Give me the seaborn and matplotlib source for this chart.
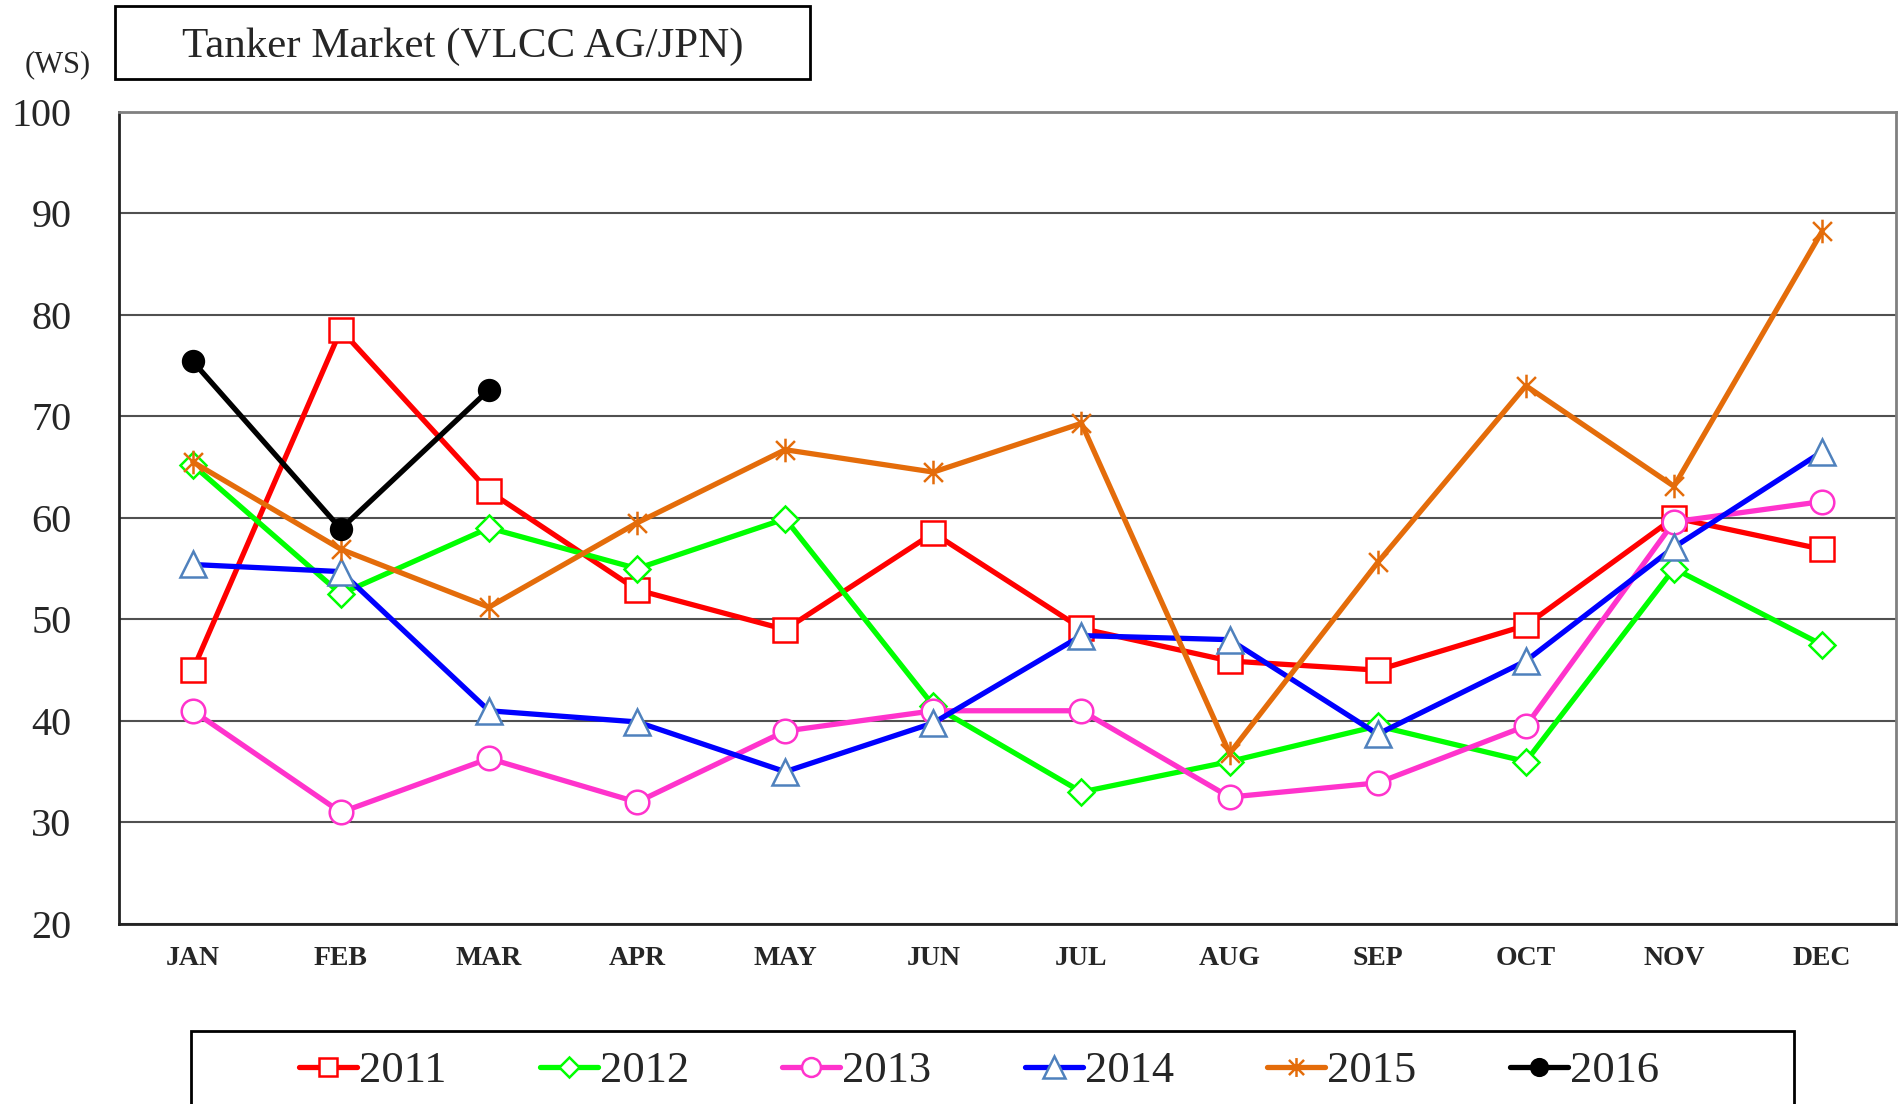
import numpy as np
import pandas as pd
import matplotlib
matplotlib.use("Agg")
import matplotlib.pyplot as plt
from matplotlib.patches import Rectangle
from matplotlib.path import Path
import seaborn as sns

# data
months = ["JAN", "FEB", "MAR", "APR", "MAY", "JUN",
          "JUL", "AUG", "SEP", "OCT", "NOV", "DEC"]
ws_2011 = [45.0, 78.5, 62.6, 52.9, 49.0, 58.5, 49.1, 45.9, 45.0, 49.4, 60.0, 56.9]
ws_2012 = [65.2, 52.5, 59.0, 55.0, 59.9, 41.5, 33.0, 36.0, 39.5, 36.0, 55.0, 47.5]
ws_2013 = [41.0, 31.0, 36.3, 32.0, 39.0, 41.0, 41.0, 32.5, 33.9, 39.5, 59.6, 61.6]
ws_2014 = [55.4, 54.7, 41.0, 39.9, 35.0, 39.8, 48.4, 48.0, 38.7, 45.9, 57.1, 66.5]
ws_2015 = [65.5, 56.9, 51.2, 59.5, 66.7, 64.5, 69.3, 36.8, 55.6, 73.0, 63.1, 88.2]
ws_2016 = [75.4, 58.9, 72.6]
years = ["2011", "2012", "2013", "2014", "2015", "2016"]

sns.set_style("white")
plt.rcParams["font.family"] = ["Liberation Serif", "DejaVu Serif"]

# excel-like star: X plus a vertical bar
star = Path([(0, -1), (0, 1), (-0.8, -0.8), (0.8, 0.8), (-0.8, 0.8), (0.8, -0.8)],
            [Path.MOVETO, Path.LINETO] * 3)

styles = {
    "2011": dict(color="#FF0000", marker="s", mfc="white", mec="#FF0000", ms=17),
    "2012": dict(color="#00FF00", marker="D", mfc="white", mec="#00FF00", ms=13),
    "2013": dict(color="#FF33CC", marker="o", mfc="white", mec="#FF33CC", ms=17),
    "2014": dict(color="#0000FF", marker="^", mfc="white", mec="#4F81BD", ms=19),
    "2015": dict(color="#E46C0A", marker=star, mfc="#E46C0A", mec="#E46C0A", ms=17),
    "2016": dict(color="#000000", marker="o", mfc="#000000", mec="#000000", ms=15),
}
series = [ws_2011, ws_2012, ws_2013, ws_2014, ws_2015, ws_2016]

fig = plt.figure(figsize=(18.99, 11.04), dpi=100)
ax = fig.add_axes([0.0625, 0.163, 0.936, 0.736])

for yr, vals in zip(years, series):
    st = styles[yr]
    sns.lineplot(x=months[:len(vals)], y=vals, ax=ax, sort=False, lw=3.8,
                 color=st["color"], marker=st["marker"], markersize=st["ms"],
                 markerfacecolor=st["mfc"], markeredgecolor=st["mec"],
                 markeredgewidth=1.8, label=yr)

if ax.get_legend() is not None:
    ax.get_legend().remove()

ax.set_ylim(20, 100)
ax.set_xlim(-0.5, 11.5)
ax.set_yticks(range(20, 101, 10))
ax.yaxis.grid(True, color="#505050", lw=1.5)
ax.set_axisbelow(True)
ax.tick_params(axis="y", length=0, pad=34, labelsize=29)
ax.set_xticks(range(12))
ax.set_xticklabels(months, fontweight="bold", fontsize=20)
ax.tick_params(axis="x", which="major", length=0, pad=16)
ax.set_xticks(np.arange(0.5, 11, 1), minor=True)
ax.tick_params(axis="x", which="minor", direction="in", length=9, width=1.5, color="#333333")
ax.set_xlabel("")
ax.set_ylabel("")
for side in ["left", "bottom"]:
    ax.spines[side].set_color("#222222")
    ax.spines[side].set_linewidth(2)
for side in ["top", "right"]:
    ax.spines[side].set_color("#808080")
    ax.spines[side].set_linewidth(2)

# title box
fig.add_artist(Rectangle((0.0606, 0.9284), 0.366, 0.0661, transform=fig.transFigure,
                         fill=False, ec="black", lw=2))
fig.text(0.2435, 0.958, "Tanker Market (VLCC AG/JPN)", fontsize=31,
         ha="center", va="center")
fig.text(0.0305, 0.941, "(WS)", fontsize=22, ha="center", va="center")

# legend box
fig.add_artist(Rectangle((0.1006, -0.02), 0.844, 0.0861, transform=fig.transFigure,
                         fill=False, ec="black", lw=2))
handles, labels = ax.get_legend_handles_labels()
fig.legend(handles, labels, loc="center", bbox_to_anchor=(0.5156, 0.0295), ncol=6,
           frameon=False, fontsize=32, handlelength=1.3, handletextpad=0.05,
           columnspacing=2.1, numpoints=1, markerscale=0.8)

fig.savefig("out.png", dpi=100)
